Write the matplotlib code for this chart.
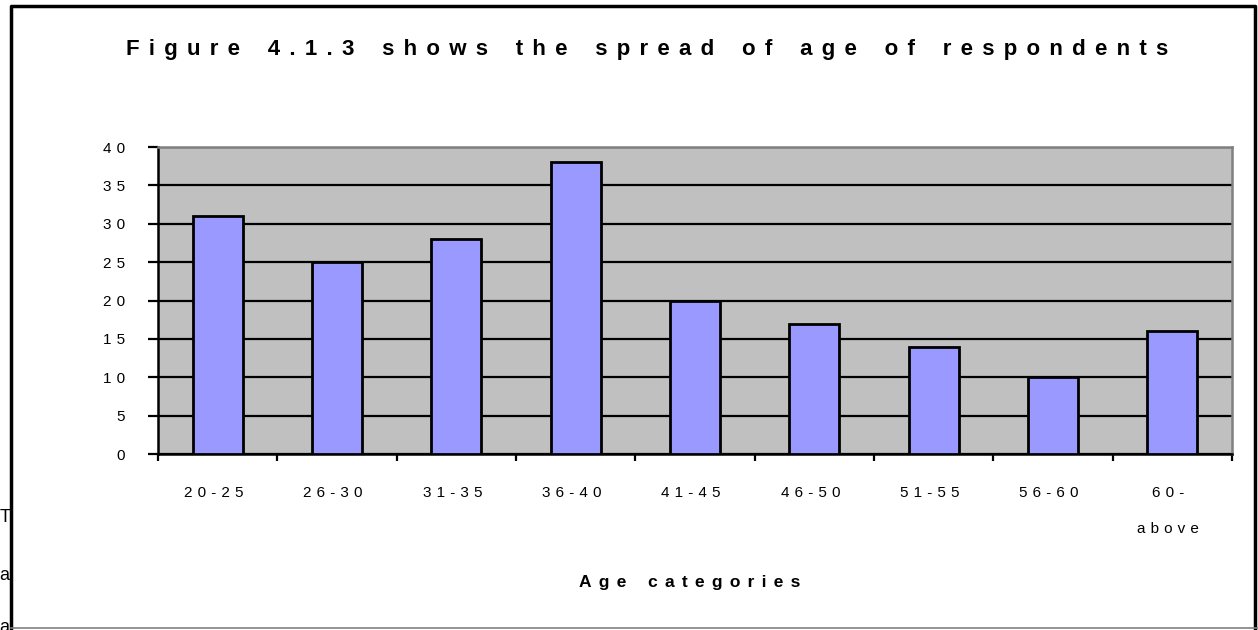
import numpy as np
import matplotlib
matplotlib.use("Agg")
import matplotlib.pyplot as plt
from matplotlib.lines import Line2D
from matplotlib.transforms import ScaledTranslation

# respondents per age group
categories = ["20-25", "26-30", "31-35", "36-40", "41-45", "46-50", "51-55", "56-60", "60-\nabove"]
counts = [31, 25, 28, 38, 20, 17, 14, 10, 16]
y_ticks = [0, 5, 10, 15, 20, 25, 30, 35, 40]

title = "Figure 4.1.3 shows the spread of age of respondents"
x_title = "Age categories"
side_letters = ["T", "a", "a"]

GAP = "\u2004"          # three-per-em space
WIDE_GAP = "\u2004\u200a"  # a touch wider for the bold headings


def spaced(s, gap=GAP):
    # wide character spacing, one line at a time
    return "\n".join(gap.join(gap if ch == " " else ch for ch in line) for line in s.split("\n"))


plt.rcParams["font.family"] = ["Liberation Sans", "DejaVu Sans"]

W, H = 1258, 630
fig = plt.figure(figsize=(W / 100, H / 100), dpi=100)
ax = fig.add_axes([158 / W, 1 - 454 / H, (1232 - 158) / W, (454 - 147) / H])

x = np.arange(len(categories))
ax.set_facecolor("#C0C0C0")
ax.set_axisbelow(True)
ax.yaxis.grid(True, color="black", linewidth=1.6)
ax.bar(x, counts, width=0.42, color="#9999FF", edgecolor="black", linewidth=2, zorder=3)

ax.set_xlim(-0.5, len(categories) - 0.5)
ax.set_ylim(0, 40)
ax.set_yticks(y_ticks)
ax.set_yticklabels([spaced(str(v)) for v in y_ticks], fontsize=11)
ax.set_xticks(x)
ax.set_xticklabels([spaced(c) for c in categories], fontsize=11, linespacing=3.0, va="top")
ax.set_xticks(np.arange(len(categories) + 1) - 0.5, minor=True)
ax.tick_params(axis="x", which="major", length=0, pad=23)
ax.tick_params(axis="x", which="minor", length=5, width=1.6, direction="out")
ax.tick_params(axis="y", length=7, width=1.6, direction="out", pad=17)

shift = ScaledTranslation(-4 / 100, 0, fig.dpi_scale_trans)
for lbl in ax.get_xticklabels():
    lbl.set_transform(lbl.get_transform() + shift)

for side in ("left", "bottom"):
    ax.spines[side].set_linewidth(1.8)
    ax.spines[side].set_color("black")
for side in ("top", "right"):
    ax.spines[side].set_linewidth(1.8)
    ax.spines[side].set_color("#808080")

fig.text(647 / W, 1 - 49 / H, spaced(title, WIDE_GAP), ha="center", va="center",
         fontsize=16, fontweight="bold")
fig.text(690 / W, 1 - 582 / H, spaced(x_title, WIDE_GAP), ha="center", va="center",
         fontsize=12.5, fontweight="bold")

# outer chart border: black on three sides, grey along the bottom
px = lambda v: v / W
py = lambda v: 1 - v / H
fig.lines.append(Line2D([px(10.5), px(10.5), px(1254.5), px(1254.5)], [py(630), py(6), py(6), py(630)],
                        transform=fig.transFigure, color="black", linewidth=2.5))
fig.lines.append(Line2D([px(10.5), px(1258)], [py(628), py(628)], transform=fig.transFigure,
                        color="#808080", linewidth=1.2))

for letter, yy in zip(side_letters, [517, 575, 628]):
    fig.text(-0.0005, py(yy), letter, ha="left", va="center", fontsize=13)

fig.savefig("out.png", dpi=100, facecolor="white")
